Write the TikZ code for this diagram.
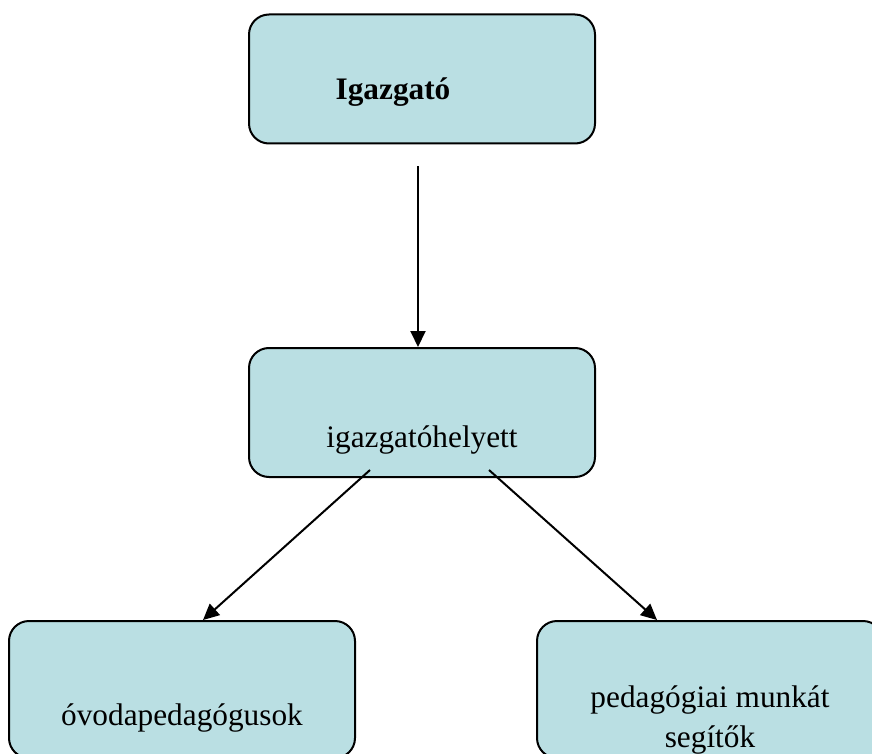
\documentclass[tikz,border=0pt]{standalone}
\usepackage{fontspec}
\setmainfont{Liberation Serif}
\usetikzlibrary{shapes, arrows.meta}
\definecolor{boxfill}{RGB}{186,223,227}
\tikzstyle{block} = [rectangle, draw, line width=2pt, fill=boxfill, rounded corners=20pt,
    minimum width=346pt, minimum height=129pt, inner sep=0pt, text depth=0pt,
    font=\fontsize{31.3}{40}\selectfont]
\tikzstyle{line} = [draw, line width=2pt, -{Triangle[length=16pt,width=15pt]}]

\begin{document}
\begin{tikzpicture}[x=1pt, y=-1pt, node distance = 333.5pt]
        \useasboundingbox (0,0) rectangle (872,754);
        % Place nodes
        \node [block, text height=42pt] at (422,79) (boss) {\textbf{Igazgató}\hspace{58pt}\null};
        \node [block, below of=boss, text height=69pt] (deputy) {igazgatóhelyett};
        \node [block, below of=deputy, node distance=277pt, xshift=-240pt,
            minimum height=137pt, text height=71pt] (teachers) {óvodapedagógusok};
        \node [block, below of=deputy, node distance=277pt, xshift=288pt,
            minimum height=137pt, text height=115pt, align=center] (helpers) {pedagógiai munkát\\segítők};
        % Draw edges
        \path [line, shorten <=22pt] ([xshift=-4pt]boss.south) -- ([xshift=-4pt]deputy.north);
        \path [line] ([xshift=-52pt,yshift=8pt]deputy.south) -- ([xshift=21pt]teachers.north);
        \path [line] ([xshift=67pt,yshift=8pt]deputy.south) -- ([xshift=-53pt]helpers.north);
    \end{tikzpicture}
\end{document}
